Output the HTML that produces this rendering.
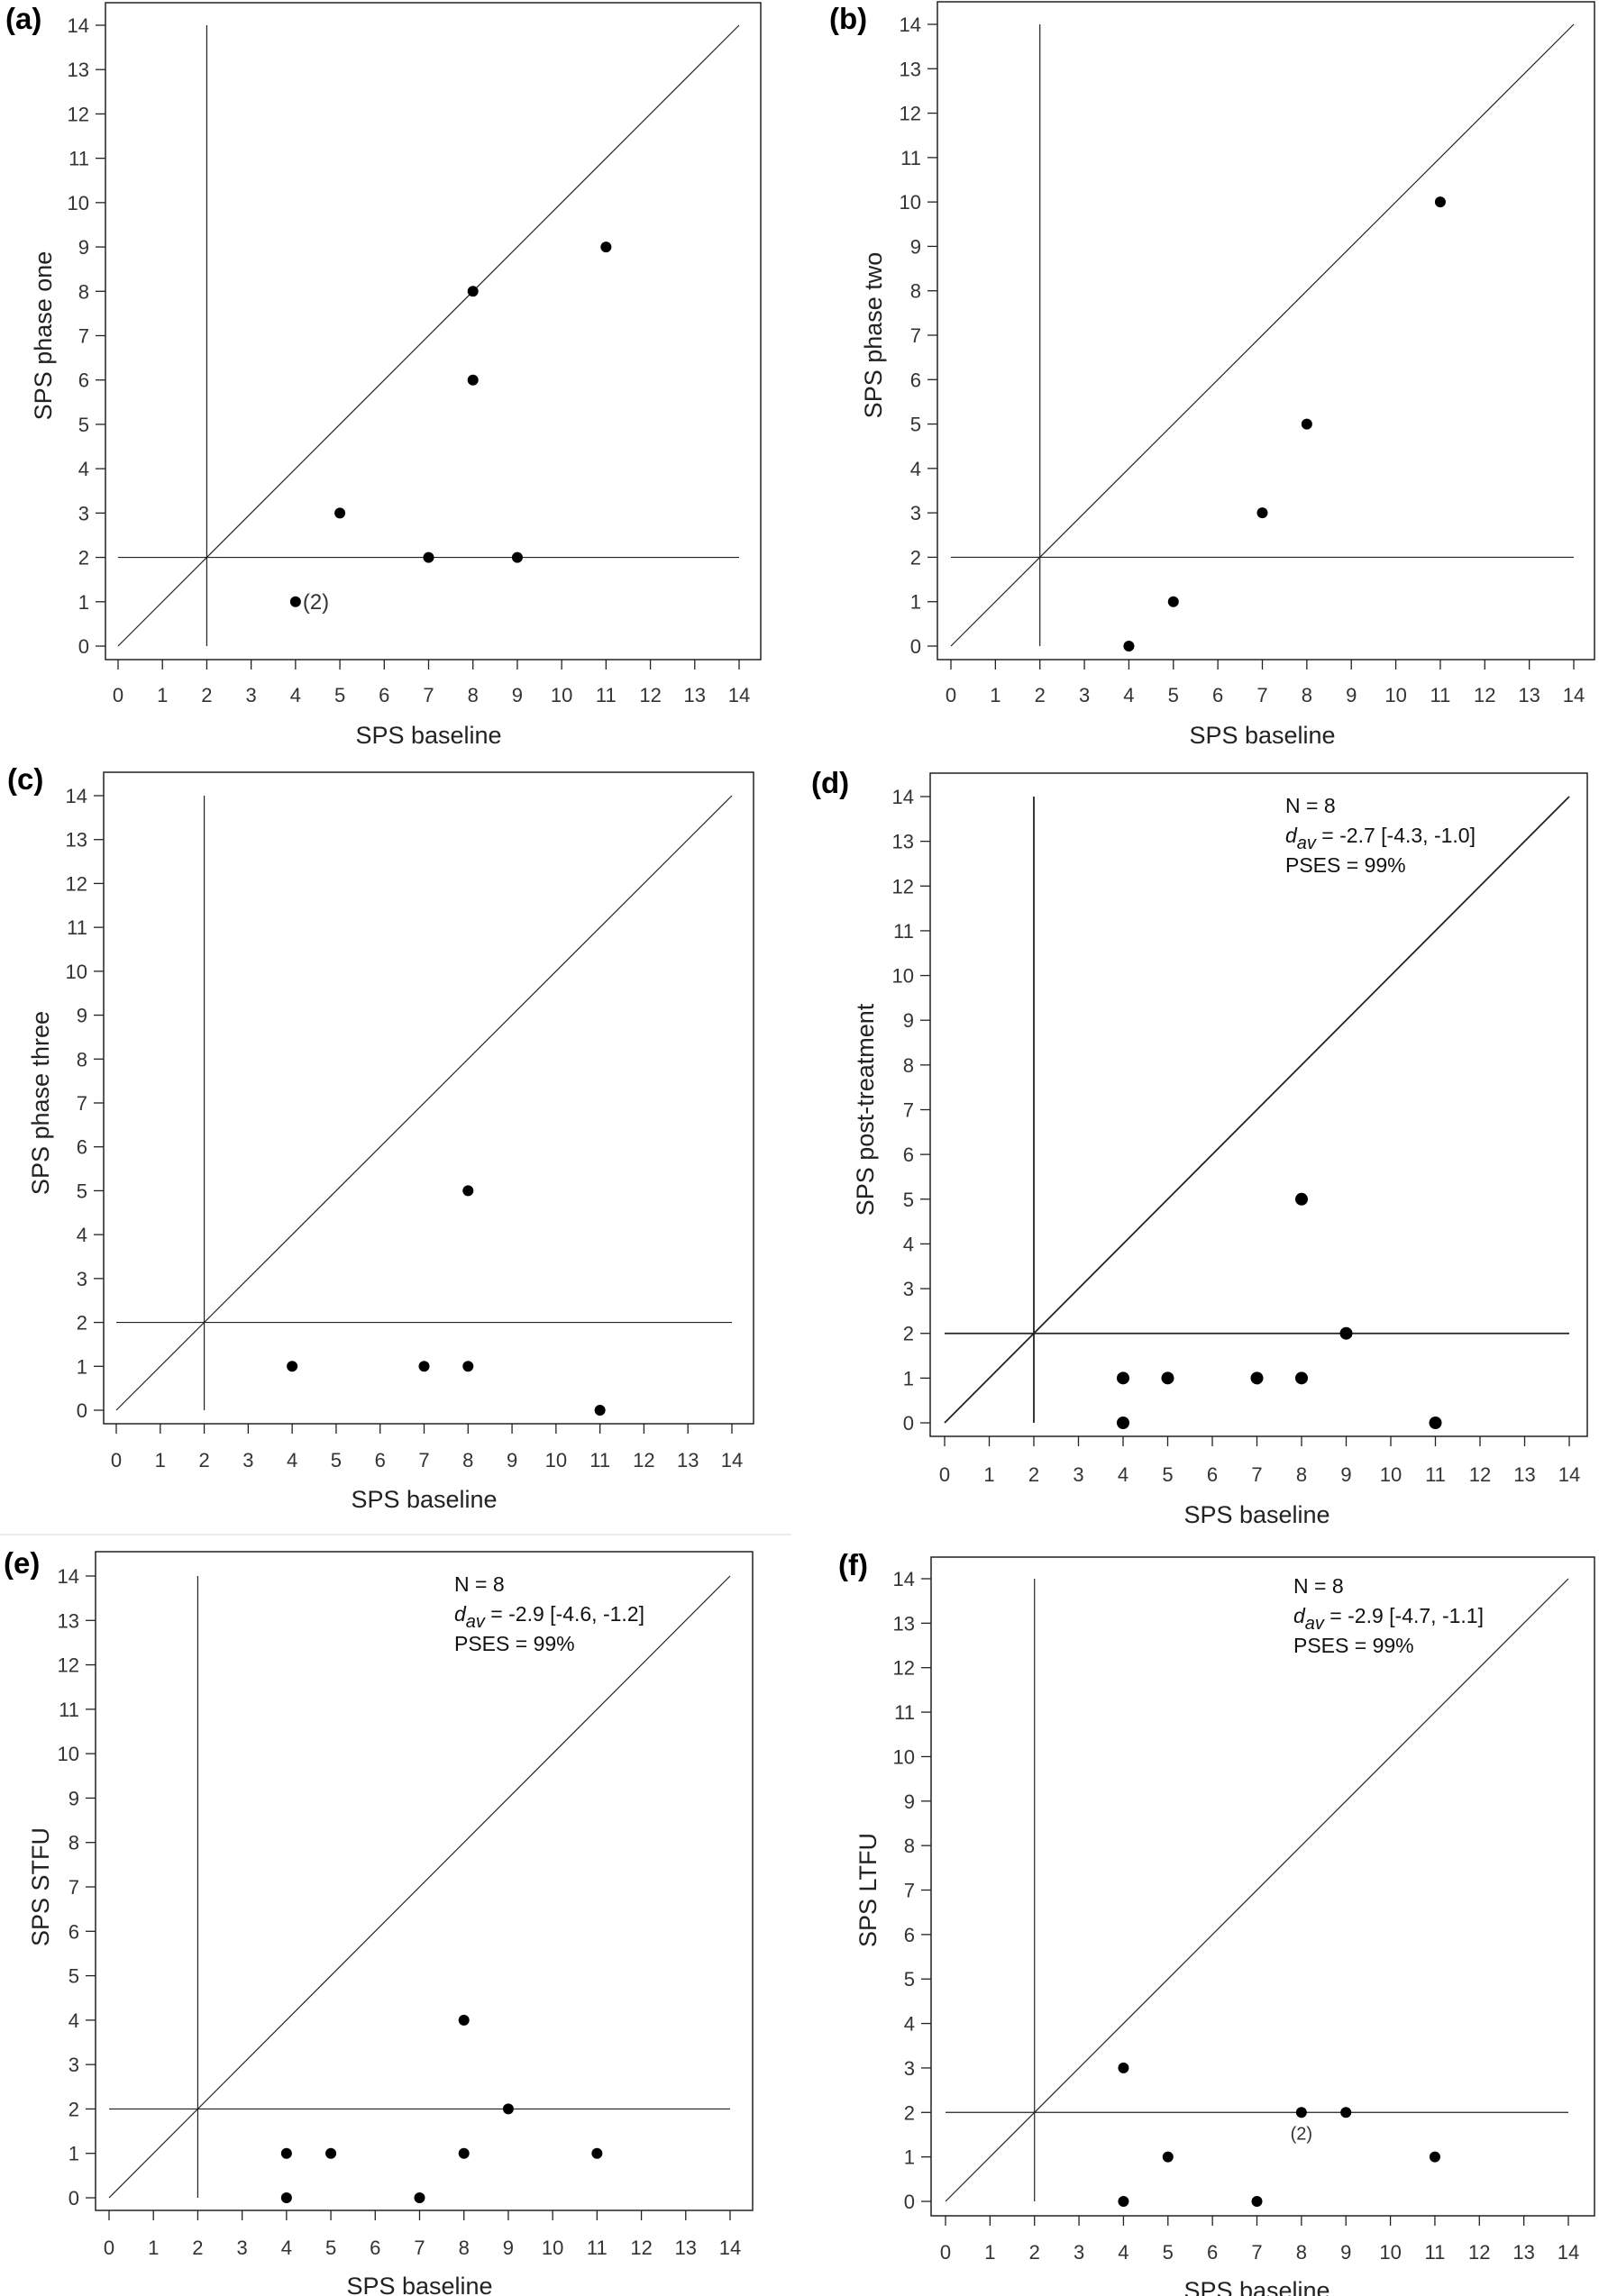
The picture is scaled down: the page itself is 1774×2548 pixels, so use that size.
<!DOCTYPE html>
<html><head><meta charset="utf-8"><style>
html,body{margin:0;padding:0;background:#fff;}
svg{display:block;font-family:"Liberation Sans",Arial,sans-serif;}
</style></head><body>
<svg id="fig" width="1774" height="2548" viewBox="0 0 1774 2548"></svg>
<script>
const ticks = [0,1,2,3,4,5,6,7,8,9,10,11,12,13,14];
const cutoff = 2;
const aX = [4,5,7,8,8,9,11];       const aY = [1,3,2,8,6,2,9];
const bX = [4,5,7,8,11];           const bY = [0,1,3,5,10];
const cX = [4,7,8,8,11];           const cY = [1,1,1,5,0];
const dX = [4,4,5,7,8,8,9,11];     const dY = [1,0,1,1,1,5,2,0];
const eX = [4,4,5,7,8,8,9,11];     const eY = [1,0,1,0,4,1,2,1];
const fX = [4,4,5,7,8,9,11];       const fY = [3,0,1,0,2,2,1];
const yTitles = ["SPS phase one","SPS phase two","SPS phase three","SPS post-treatment","SPS STFU","SPS LTFU"];
const letters = ["(a)","(b)","(c)","(d)","(e)","(f)"];
const statsD = ["N = 8","-2.7 [-4.3, -1.0]","PSES = 99%"];
const statsE = ["N = 8","-2.9 [-4.6, -1.2]","PSES = 99%"];
const statsF = ["N = 8","-2.9 [-4.7, -1.1]","PSES = 99%"];

const NS="http://www.w3.org/2000/svg";
const svg=document.getElementById('fig');
function mk(tag,attrs,parent){const e=document.createElementNS(NS,tag);for(const k in attrs)e.setAttribute(k,attrs[k]);(parent||svg).appendChild(e);return e;}

const panels=[
 {xs:aX,ys:aY,L:117,R:844,T:3,B:732,x0:131,x14:820,y14:28,y0:717,tickY:771,xlab:816,ylx:48,lx:6,ly:32,r:6,lw:1.2,note:{i:0,text:"(2)",dx:8,dy:8}},
 {xs:bX,ys:bY,L:1040,R:1769,T:2,B:732,x0:1055,x14:1746,y14:27,y0:717,tickY:771,xlab:816,ylx:969,lx:920,ly:32,r:6,lw:1.2},
 {xs:cX,ys:cY,L:115,R:836,T:857,B:1580,x0:129,x14:812,y14:883,y0:1565,tickY:1620,xlab:1664,ylx:45,lx:8,ly:876,r:6,lw:1.2},
 {xs:dX,ys:dY,L:1032,R:1761,T:858,B:1594,x0:1048,x14:1741,y14:884,y0:1579,tickY:1636,xlab:1681,ylx:960,lx:900,ly:880,r:7,lw:1.8,stats:statsD,sx:1426,sy:894},
 {xs:eX,ys:eY,L:106,R:835,T:1722,B:2453,x0:121,x14:810,y14:1749,y0:2439,tickY:2494,xlab:2537,ylx:45,lx:4,ly:1746,r:6,lw:1.2,stats:statsE,sx:504,sy:1758},
 {xs:fX,ys:fY,L:1033,R:1769,T:1728,B:2459,x0:1049,x14:1740,y14:1752,y0:2443,tickY:2499,xlab:2542,ylx:963,lx:930,ly:1748,r:6,lw:1.2,stats:statsF,sx:1435,sy:1760,note:{i:4,text:"(2)",dx:0,dy:30,anchor:"middle"}}
];

panels.forEach((p,pi)=>{
 const g=mk('g',{});
 
 
 const X=v=>p.x0+(p.x14-p.x0)*v/14;
 const Y=v=>p.y0+(p.y14-p.y0)*v/14;
 const frame=mk('rect',{x:p.L,y:p.T,width:p.R-p.L,height:p.B-p.T,fill:'none',stroke:'#222','stroke-width':1.5},g);
 
 
 ticks.forEach(t=>{
  mk('line',{x1:X(t),x2:X(t),y1:p.B,y2:p.B+11,stroke:'#222','stroke-width':1.3},g);
  const tx=mk('text',{x:X(t),y:p.tickY+8,'font-size':22,fill:'#333','text-anchor':'middle'},g);
  tx.textContent=t;
  
  
  mk('line',{x1:p.L-11,x2:p.L,y1:Y(t),y2:Y(t),stroke:'#222','stroke-width':1.3},g);
  const ty=mk('text',{x:p.L-18,y:Y(t)+8,'font-size':22,fill:'#333','text-anchor':'end'},g);
  ty.textContent=t;
  
  
 });
 const diag=mk('line',{x1:X(0),y1:Y(0),x2:X(14),y2:Y(14),stroke:'#222','stroke-width':p.lw},g);
 
 
 const vl=mk('line',{x1:X(cutoff),y1:Y(0),x2:X(cutoff),y2:Y(14),stroke:'#222','stroke-width':p.lw},g);
 
 
 const hl=mk('line',{x1:X(0),y1:Y(cutoff),x2:X(14),y2:Y(cutoff),stroke:'#222','stroke-width':p.lw},g);
 
 
 p.xs.forEach((xv,i)=>{
  const c=mk('circle',{cx:X(xv),cy:Y(p.ys[i]),r:p.r,fill:'#000'},g);
  
  
 });
 if(p.note){
  const i=p.note.i;
  const n=mk('text',{x:X(p.xs[i])+p.note.dx+(p.note.anchor?0:0),y:Y(p.ys[i])+p.note.dy,'font-size':p.note.anchor?20:24,fill:'#333','text-anchor':p.note.anchor||'start'},g);
  n.textContent=p.note.text;
  
  
 }
 const xt=mk('text',{x:(p.x0+p.x14)/2,y:p.xlab+9,'font-size':27,fill:'#222','text-anchor':'middle'},g);
 xt.textContent='SPS baseline';
 
 
 const yc=(p.y0+p.y14)/2;
 const yt=mk('text',{x:p.ylx+9,y:yc,'font-size':27,fill:'#222','text-anchor':'middle',transform:'rotate(-90 '+(p.ylx+9)+' '+yc+')'},g);
 yt.textContent=yTitles[pi];
 
 
 const lt=mk('text',{x:p.lx,y:p.ly,'font-size':33,'font-weight':'bold',fill:'#000'},g);
 lt.textContent=letters[pi];
 
 
 if(p.stats){
  const s1=mk('text',{x:p.sx,y:p.sy+8,'font-size':23,fill:'#111'},g);
  s1.textContent=p.stats[0];
  
  
  const s2=mk('text',{x:p.sx,y:p.sy+41,'font-size':23,fill:'#111'},g);
  
  
  const d=mk('tspan',{'font-style':'italic'},s2);d.textContent='d';
  const sub=mk('tspan',{'font-style':'italic','font-size':20,dy:7},s2);sub.textContent='av';
  const rest=mk('tspan',{dy:-7},s2);rest.textContent=' = '+p.stats[1];
  const s3=mk('text',{x:p.sx,y:p.sy+74,'font-size':23,fill:'#111'},g);
  s3.textContent=p.stats[2];
  
  
 }
});
const sep=mk('line',{x1:0,y1:1703,x2:878,y2:1703,stroke:'#e6e6e6','stroke-width':1.5});


</script>
</body></html>
